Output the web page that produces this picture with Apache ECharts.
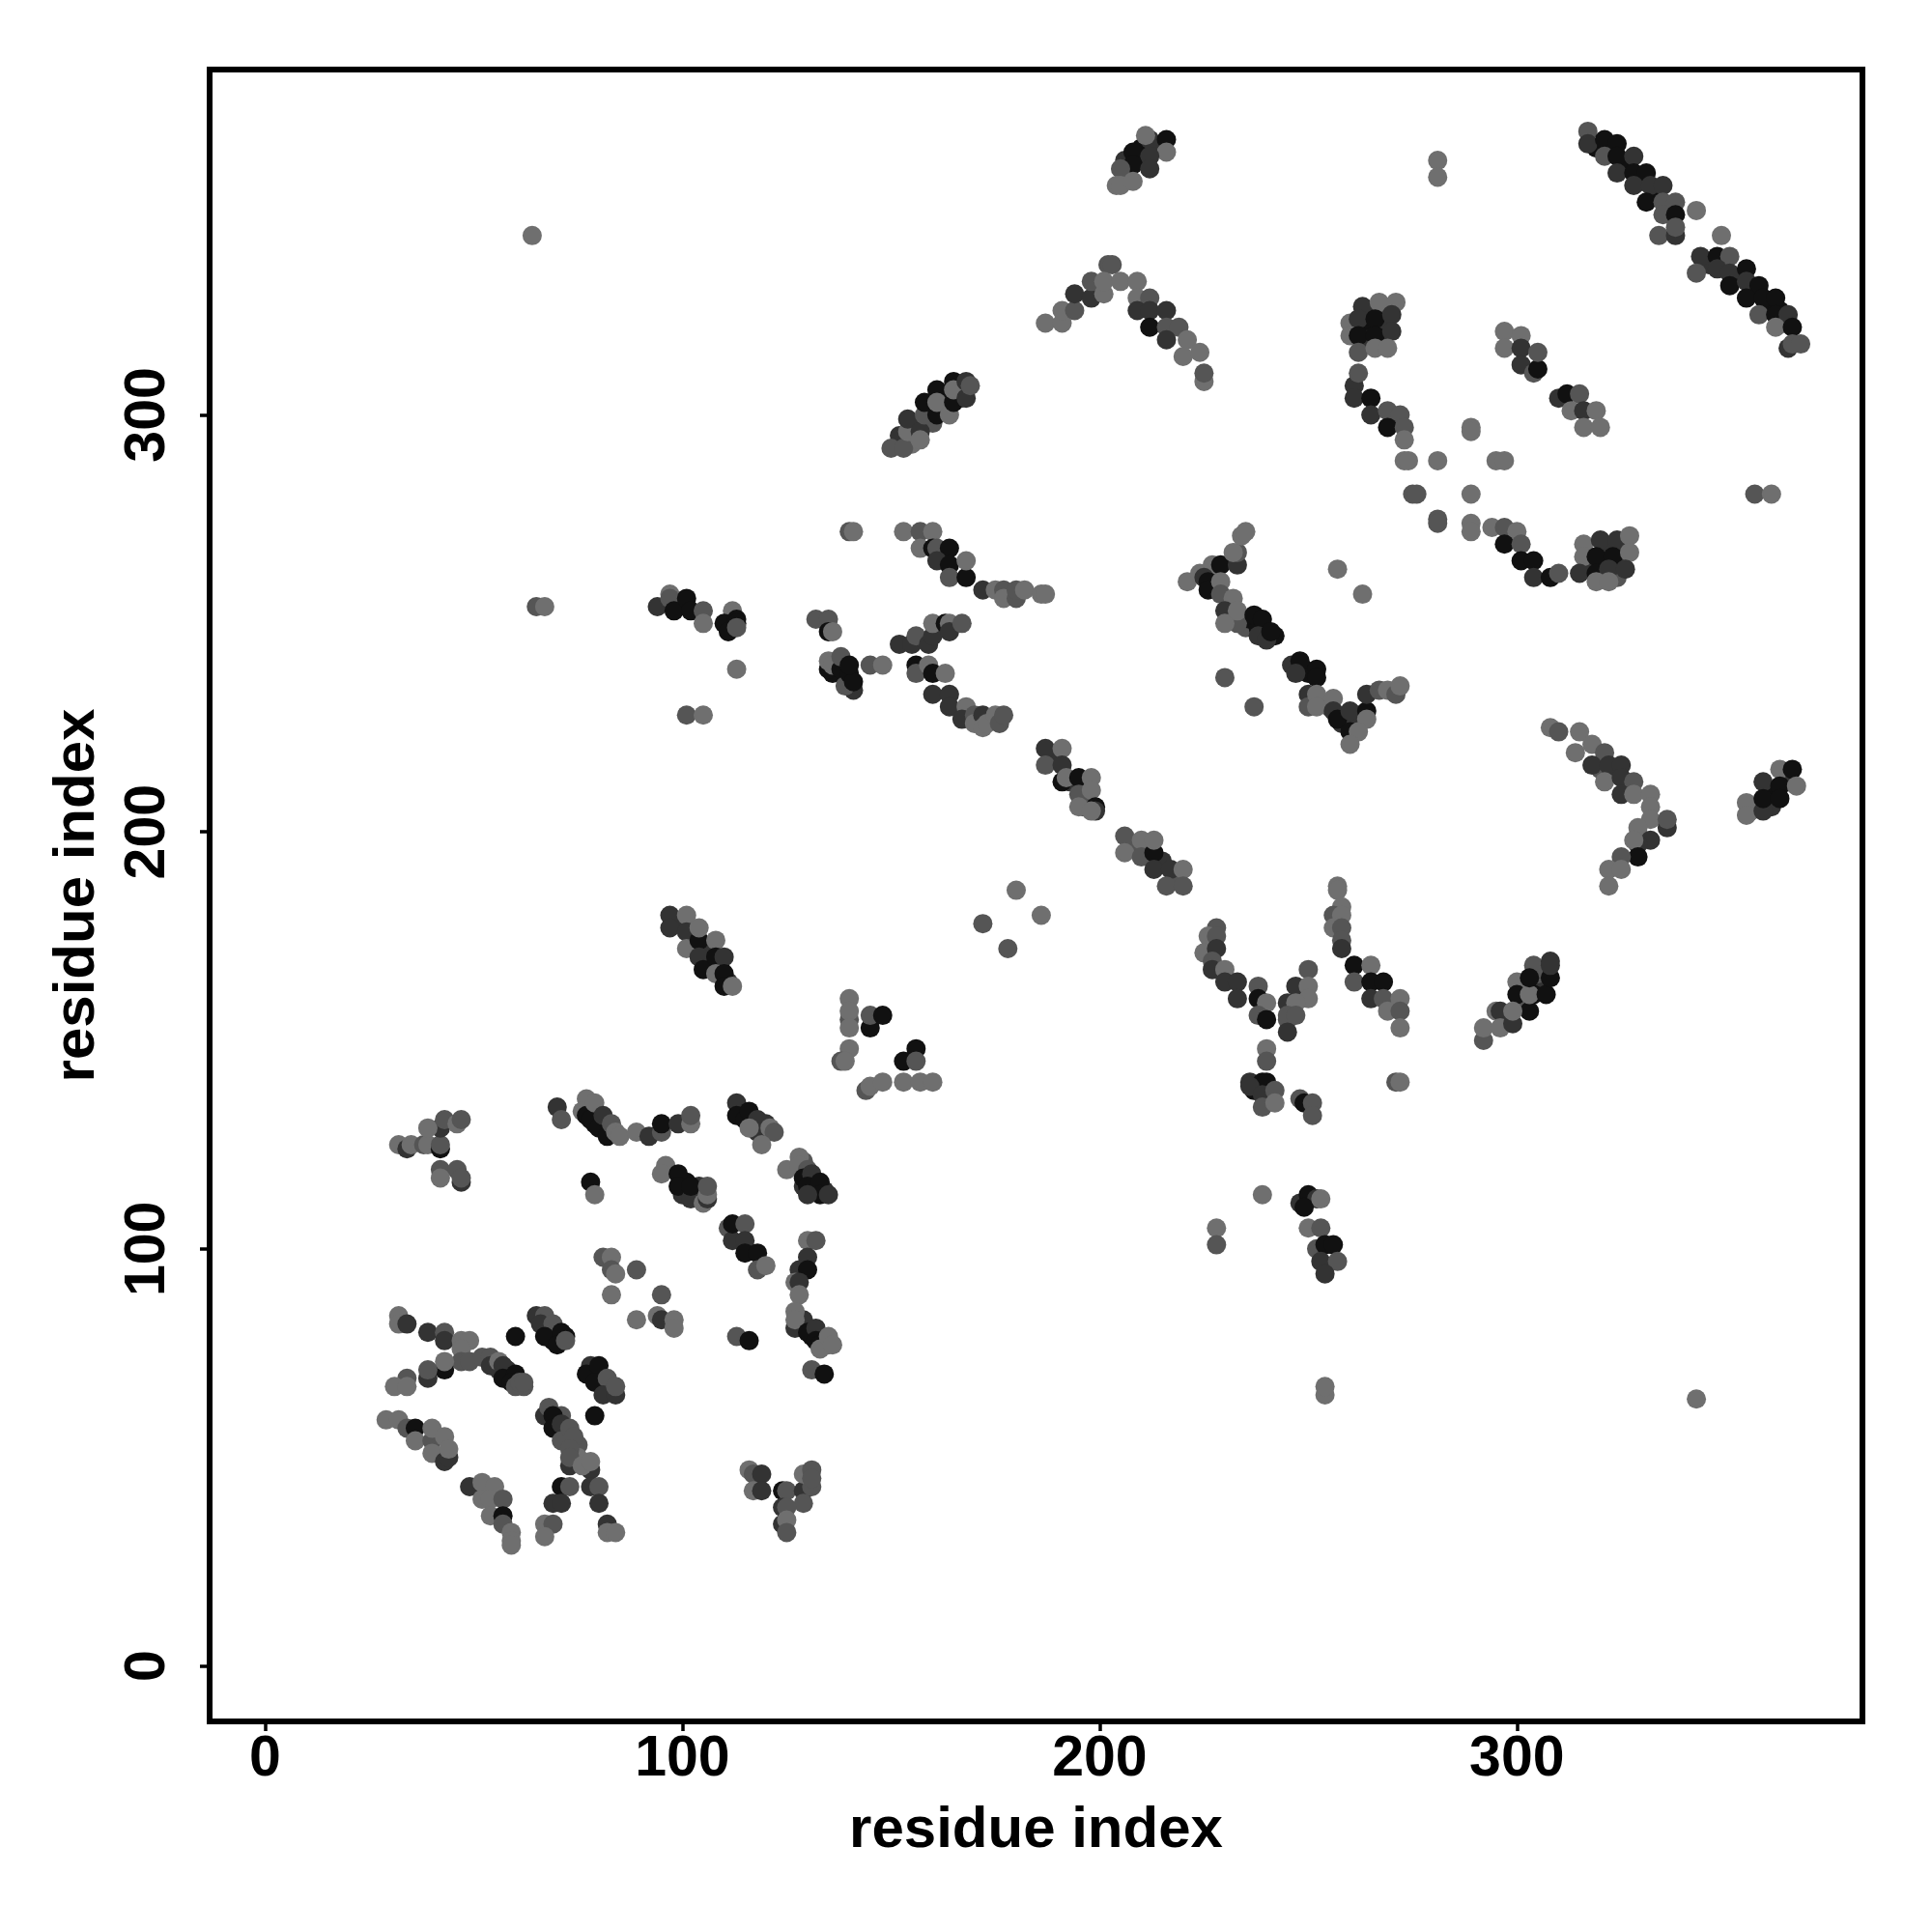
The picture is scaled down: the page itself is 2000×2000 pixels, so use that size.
<!DOCTYPE html>
<html><head><meta charset="utf-8">
<style>html,body{margin:0;padding:0;background:#fff}#c{width:2000px;height:2000px}</style>
<script src="https://cdn.jsdelivr.net/npm/echarts@6/dist/echarts.min.js"></script>
</head><body><div id="c"></div>
<script>
// Contacts: [residue x, residue y, strength 1..4]
const denseUpper=[[319,364,4],[322,363,4],[326,360,4],[330,356,4],[333,353,4],[336,349,3],[346,336,3],[349,336,3],[353,333,4],[357,330,4],[360,326,4],[363,325,4],[364,322,4],[210,361,4],[210,364,4],[214,364,3],[206,357,3],[206,361,3],[152,295,3],[155,293,1],[156,298,3],[159,301,4],[160,298,2],[163,302,3],[163,305,4],[166,306,3],[167,304,2],[264,321,4],[268,322,3],[264,325,3],[268,325,2],[264,318,3],[268,318,3],[321,268,3],[325,268,3],[317,263,3],[321,264,4],[325,265,3],[320,261,3],[324,261,2]];
const denseLower=[[114,133,4],[117,131,4],[120,130,3],[115,132,1],[129,121,2],[131,116,4],[132,115,4],[129,115,3],[134,114,3],[79,130,4],[81,129,3],[83,128,3],[101,116,4],[104,113,4],[104,115,3],[100,113,3],[68,82,3],[70,80,4],[69,78,4],[72,79,4],[66,83,2],[79,71,4],[81,68,3],[82,67,4],[83,66,3],[80,69,4],[58,71,3],[56,71,3],[59,70,4],[62,67,2],[129,81,3],[131,79,4],[134,78,3],[135,77,1],[128,82,2],[70,59,4],[72,56,3],[75,53,2],[75,50,1],[71,60,2]];
const denseMiddle=[[99,178,3],[103,175,3],[102,177,2],[106,172,3],[107,168,4],[109,168,4],[106,169,4],[111,164,3],[189,218,3],[193,212,3],[197,208,2],[196,206,2],[208,197,2],[215,193,3],[218,189,2],[228,259,4],[231,255,3],[235,249,2],[231,251,3],[236,251,4],[238,249,4],[240,248,4],[242,247,4],[227,262,3],[249,239,4],[250,238,4],[253,231,2],[255,230,2],[258,226,3],[259,227,3],[261,226,3],[262,228,3],[302,159,3],[305,163,4],[306,165,3],[301,160,2],[298,155,3],[304,161,4],[307,167,3],[305,166,2],[237,138,4],[238,138,4],[240,137,3],[241,136,3],[137,240,2],[139,237,3],[140,236,4],[136,238,4],[323,214,3],[320,215,2],[327,210,2],[361,210,4],[357,206,2],[361,206,3],[365,212,3],[356,205,1]];
const lowA=[[32,125,1],[34,124,3],[35,125,1],[38,125,2],[39,125,1],[42,124,4],[42,125,2],[42,129,3],[39,129,1],[43,131,2],[46,130,1],[47,131,2],[42,119,2],[46,119,2],[42,117,1],[47,116,3],[47,117,2]];
const lowB=[[70,134,3],[71,131,2],[77,136,1],[76,133,1],[77,132,4],[78,131,4],[80,129,4],[82,127,4],[79,135,1],[81,132,3],[83,130,2],[84,128,1],[85,127,1],[89,128,1],[92,127,3],[95,128,2],[95,130,4],[99,130,3],[102,130,1],[102,132,2]];
const lowC=[[113,135,3],[113,132,4],[115,131,4],[116,133,4],[118,131,3],[118,128,3],[116,129,1],[121,129,1],[122,128,2],[119,125,1]];
const lowD=[[128,122,1],[125,119,1],[128,120,1],[130,119,2],[129,117,4],[131,118,3],[130,115,4],[133,116,4],[133,113,4],[130,113,3],[135,113,3]];
const lowE=[[96,120,1],[95,118,1],[99,118,4],[99,115,4],[102,112,3],[102,115,4],[105,111,1],[106,112,3],[106,113,1],[106,115,2],[78,116,4],[79,113,1]];
const lowF=[[111,105,2],[112,102,3],[112,106,4],[115,106,2],[115,102,3],[115,99,4],[118,99,4],[118,95,2],[120,96,1]];
const lowG=[[130,102,1],[132,102,2],[130,98,3],[128,95,3],[130,95,4],[127,92,1],[128,92,3],[128,89,1]];
const lowH=[[81,98,2],[83,98,1],[83,95,2],[84,94,1],[89,95,2],[83,89,1],[95,89,2],[89,83,1],[94,84,1],[95,83,3],[98,83,1],[98,81,1]];
const lowI=[[127,81,3],[129,83,3],[127,85,1],[127,83,1],[130,80,4],[132,81,3],[132,78,4],[133,77,4],[133,76,1],[135,79,1],[136,77,1],[131,71,2],[134,70,4],[113,79,2],[116,78,4]];
const lowJ=[[32,84,1],[32,82,1],[34,82,3],[39,80,3],[43,80,2],[43,78,3],[47,78,1],[49,78,1],[47,76,1],[47,73,2],[49,73,2],[43,71,4],[43,73,1],[39,69,3],[39,71,2],[34,69,2],[31,67,1],[34,67,1],[52,74,2],[54,74,2],[54,72,3],[56,73,1],[57,72,3],[57,69,4],[60,70,4],[59,68,4],[60,67,2],[61,68,2],[62,68,2],[60,79,4]];
const lowK=[[65,84,3],[67,84,2],[66,82,3],[69,82,2],[67,79,4],[71,80,4],[70,77,4],[72,78,2]];
const lowL=[[78,72,3],[77,70,4],[80,72,4],[79,68,4],[82,69,2],[81,65,3],[84,65,3],[84,67,2],[79,60,4]];
const lowM=[[29,59,1],[32,59,1],[34,57,2],[36,57,4],[36,54,1],[40,54,2],[40,57,1],[43,55,1],[40,51,1],[43,49,3],[44,50,3],[44,52,1]];
const lowN=[[49,43,3],[52,44,1],[52,40,1],[55,43,1],[54,40,1],[57,40,2],[54,36,1],[57,36,4],[57,34,2],[59,32,1],[59,30,1],[59,29,1]];
const lowO=[[67,60,3],[68,62,2],[69,60,4],[69,57,4],[71,58,3],[71,54,2],[73,57,2],[74,55,2],[73,52,2],[73,48,3],[73,50,2],[78,47,3],[76,48,1],[78,49,1],[71,43,4],[73,43,2],[69,39,3],[71,39,3],[78,43,3],[80,43,2],[80,39,3],[82,34,3],[82,32,1],[84,32,1],[67,34,1],[69,34,2],[67,31,1]];
const lowP=[[116,47,1],[117,46,2],[119,46,3],[117,42,1],[119,42,3],[124,42,4],[125,42,2],[129,42,3],[131,43,2],[129,46,1],[131,47,2],[131,45,2],[129,39,2],[124,38,3],[125,38,2],[124,34,3],[125,35,1],[125,32,2]];
const midA=[[94,254,3],[97,257,1],[97,256,2],[98,253,4],[101,256,4],[102,253,4],[105,253,2],[105,250,1],[112,253,1],[110,250,4],[111,248,4],[113,251,4],[113,250,4],[113,249,2],[113,239,1],[101,228,2],[105,228,1]];
const midB=[[132,251,2],[135,251,2],[135,248,4],[136,248,1],[135,239,4],[135,241,1],[136,240,1],[138,239,4],[138,242,2],[141,234,3],[139,235,2],[140,238,4],[141,236,4],[140,240,4],[145,240,2],[148,240,1],[140,272,2],[141,272,1]];
const midC=[[153,272,1],[157,272,2],[160,272,1],[157,268,1],[160,268,4],[161,268,2],[164,268,4],[161,265,3],[164,264,4],[164,261,2],[168,261,4],[168,265,1],[172,258,3],[175,258,1],[177,258,2],[177,256,1],[180,256,2],[180,258,2],[182,258,1],[186,257,1],[187,257,1]];
const midD=[[152,245,3],[155,245,3],[156,247,2],[159,245,3],[160,247,3],[160,250,1],[163,250,4],[164,250,1],[164,248,3],[167,250,2],[156,240,4],[156,238,2],[159,240,1],[160,238,4],[163,238,1]];
const midE=[[160,233,3],[164,233,3],[164,230,3],[168,230,1],[167,227,3],[170,228,2],[170,226,1],[172,228,3],[172,225,1],[173,226,1],[175,228,1],[176,226,2],[177,228,2]];
const midF=[[97,180,3],[97,177,3],[101,180,1],[101,176,3],[101,172,1],[104,174,4],[104,177,1],[104,170,3],[108,174,1],[105,167,4],[108,170,4],[110,170,3],[108,166,1],[110,166,4],[110,163,4],[112,163,1]];
const midG=[[180,186,1],[186,180,1],[172,178,2],[178,172,2],[140,160,1],[140,155,2],[140,157,1],[140,153,1],[145,153,4],[145,156,2],[148,156,4],[140,148,1],[138,145,2],[139,145,1],[156,148,4],[153,145,4],[156,145,2],[144,138,2],[145,139,1],[148,140,1],[153,140,1],[157,140,1],[160,140,1],[65,254,2],[67,254,1],[64,343,1]];
const diagA=[[187,220,3],[191,220,1],[187,216,2],[191,216,3],[191,212,4],[192,213,1],[195,213,4],[198,213,1],[195,209,2],[198,210,1],[195,206,1],[199,206,4],[199,205,3],[198,205,1]];
const diagB=[[206,199,2],[206,195,1],[210,198,1],[210,194,2],[213,195,4],[213,198,1],[213,191,3],[217,191,3],[220,191,1],[216,187,2],[220,187,2]];
const topA=[[212,366,3],[211,367,1],[216,366,4],[216,363,1],[208,363,4],[212,362,3],[208,360,4],[212,359,3],[205,359,2],[204,355,1],[205,355,1],[208,356,1],[281,361,1],[281,357,1]];
const topB=[[317,368,2],[317,365,3],[321,366,4],[324,365,4],[321,362,2],[324,362,4],[328,362,3],[324,358,3],[328,358,4],[331,358,4],[328,355,3],[332,355,3],[335,355,3],[331,351,4],[335,351,2],[338,351,2],[335,348,2],[338,348,4],[334,343,2],[338,343,3],[338,345,2],[343,349,1],[349,343,1]];
const topC=[[344,338,3],[348,338,4],[351,338,2],[343,334,2],[348,335,3],[351,334,3],[355,335,4],[351,331,4],[355,332,3],[358,331,4],[355,328,4],[359,328,4],[362,328,4],[358,324,2],[362,324,4],[365,324,3],[362,321,1],[366,321,4],[365,316,3],[366,317,2],[368,317,2]];
const arch=[[187,322,1],[191,322,1],[191,325,1],[194,325,2],[194,329,3],[198,328,3],[198,332,2],[201,329,1],[202,336,2],[203,336,2],[201,332,1],[205,332,1],[209,332,1],[209,328,1],[212,328,2],[209,325,3],[212,325,3],[216,325,3],[212,321,4],[216,321,2],[219,321,2],[216,318,3],[221,318,1],[220,314,1],[224,315,1],[225,308,1],[225,310,2]];
const riseA=[[150,292,2],[153,292,2],[154,296,1],[154,299,3],[157,296,3],[157,294,1],[158,300,2],[158,303,4],[161,300,4],[161,306,4],[161,303,1],[164,300,1],[165,303,4],[165,308,4],[165,306,1],[168,304,3],[168,308,3],[169,307,2]];
const blockA=[[260,322,1],[263,326,3],[267,327,1],[271,327,1],[262,323,3],[266,323,4],[270,324,3],[260,319,1],[262,319,4],[266,319,4],[270,320,3],[262,315,2],[266,316,1],[269,316,1],[261,307,3],[262,310,2],[261,304,3],[265,304,4],[265,300,3],[269,301,2],[272,300,2],[269,297,4],[273,297,2],[273,294,1]];
const stray=[[273,289,1],[274,289,1],[281,289,1],[295,289,1],[297,289,1],[289,297,1],[289,296,1],[275,281,2],[276,281,2],[289,281,1],[281,275,2],[281,274,2],[289,274,1],[289,272,1],[357,281,2],[361,281,1]];
const pairA=[[297,320,1],[301,319,1],[297,316,1],[301,316,3],[301,312,3],[304,310,2],[305,311,4],[305,315,2],[310,304,3],[312,305,4],[315,305,2],[313,301,1],[316,301,3],[319,301,1],[316,297,1],[320,297,1]];
const arcA=[[294,273,1],[297,273,2],[300,272,1],[297,269,4],[301,269,2],[301,265,4],[304,265,4],[304,261,3],[308,261,4],[310,262,2]];
const arcB=[[316,269,1],[320,270,3],[324,270,3],[327,271,1],[316,266,1],[319,266,4],[323,266,4],[327,267,1],[315,262,3],[319,262,4],[322,263,3],[326,263,3],[319,260,1],[322,260,1]];
const veeA=[[221,260,1],[224,262,1],[227,264,1],[225,261,3],[226,260,4],[226,258,4],[229,264,4],[229,260,1],[233,264,3],[233,267,2],[232,267,1],[234,271,1],[235,272,1],[229,257,2],[232,256,1],[230,253,3],[233,250,2],[230,250,1],[233,253,1],[237,252,4],[239,251,4],[238,247,3],[240,246,3],[241,248,4],[257,263,1],[263,257,1],[230,237,2],[237,230,2]];
const veeB=[[246,240,3],[248,241,4],[247,238,3],[252,239,4],[252,237,4],[250,233,3],[250,230,2],[252,233,1],[252,230,1],[256,232,1],[256,229,3],[257,227,4],[260,229,3],[260,224,4],[264,229,4],[264,227,1],[262,224,1],[260,221,1],[264,233,3],[267,234,2],[269,234,1],[271,233,2],[272,235,1]];
const chev=[[308,225,1],[310,224,2],[315,224,1],[314,219,1],[318,221,1],[321,219,2],[318,216,3],[322,216,3],[325,216,3],[321,212,1],[325,213,3],[328,212,2],[325,209,3],[328,209,1],[332,209,1],[332,206,1],[332,203,1],[336,201,3],[336,203,2],[329,201,1],[332,198,3],[329,197,3],[328,198,1],[329,194,4],[325,194,2],[322,191,1],[325,191,1],[322,187,1]];
const nook=[[355,207,1],[355,204,1],[359,205,3],[359,212,3],[359,208,4],[363,215,1],[366,215,4],[363,211,4],[363,208,4],[367,211,1]];
const lowerA=[[228,177,2],[226,175,1],[228,175,2],[225,171,1],[228,172,3],[227,169,2],[227,167,3],[230,167,1],[230,164,3],[233,164,3],[233,160,3],[238,163,2],[238,160,4],[240,159,1],[238,156,2],[240,155,4],[250,167,2],[247,163,3],[250,163,1],[250,160,1],[245,159,3],[247,159,1],[245,155,2],[245,156,2],[247,156,2],[245,152,3]];
const lowerB=[[257,187,1],[257,186,1],[258,182,1],[256,180,2],[258,180,1],[256,177,1],[258,177,2],[258,174,2],[258,172,3],[261,168,4],[265,168,1],[261,164,2],[265,164,4],[268,164,4],[265,160,3],[268,160,2],[272,160,1],[269,157,1],[272,157,2],[272,153,1]];
const lowerC=[[292,150,2],[292,153,1],[295,157,1],[296,157,3],[296,153,1],[299,154,3],[300,164,1],[300,161,4],[303,157,4],[299,157,1],[303,161,1],[304,168,2],[303,165,4],[307,161,4],[308,165,4],[308,169,3],[308,168,3]];
const lowerD=[[236,140,3],[239,140,4],[240,140,4],[236,139,3],[239,137,3],[242,138,2],[239,134,2],[242,135,1],[240,148,1],[240,145,2],[248,136,2],[249,135,4],[251,135,2],[251,132,2],[271,140,2],[272,140,1]];
const lowerE=[[239,113,1],[228,105,1],[228,101,2],[248,111,3],[250,113,4],[252,112,3],[249,110,4],[253,112,1],[250,105,1],[253,105,2],[252,100,2],[254,101,4],[256,101,4],[253,97,3],[257,97,2],[254,94,3],[254,65,1],[254,67,1],[343,64,1]];

const xTicks=[0,100,200,300];
const yTicks=[0,100,200,300];
const axisRange=[-13.3,382.8];
const groups=[denseUpper,denseLower,denseMiddle,lowA,lowB,lowC,lowD,lowE,lowF,lowG,lowH,lowI,lowJ,lowK,lowL,lowM,lowN,lowO,lowP,midA,midB,midC,midD,midE,midF,midG,diagA,diagB,topA,topB,topC,arch,riseA,blockA,stray,pairA,arcA,arcB,veeA,veeB,chev,nook,lowerA,lowerB,lowerC,lowerD,lowerE];
const palette={1:'#6f6f6f',2:'#555555',3:'#333333',4:'#111111'};
const font='"Liberation Sans",Arial,sans-serif';
const data=[].concat(...groups);
const axis=(ticks,name,gap,lblMargin,rot)=>({type:'value',min:axisRange[0],max:axisRange[1],name,nameLocation:'middle',nameGap:gap,
  nameTextStyle:{fontFamily:font,fontWeight:'bold',fontSize:60,color:'#000'},
  splitLine:{show:false},axisLine:{show:false,onZero:false},
  axisTick:{show:true,length:10,lineStyle:{color:'#000',width:3.5},customValues:ticks},
  axisLabel:{show:true,rotate:rot,margin:lblMargin,fontFamily:font,fontWeight:'bold',fontSize:59,color:'#000',customValues:ticks,hideOverlap:false,showMinLabel:true,showMaxLabel:true}});
const chart=echarts.init(document.getElementById('c'),null,{renderer:'canvas'});
chart.setOption({animation:false,backgroundColor:'#fff',
  grid:{left:217,top:72,width:1711,height:1710,show:true,borderColor:'#000',borderWidth:6,backgroundColor:'#fff'},
  xAxis:axis(xTicks,'residue index',83,10,0),
  yAxis:axis(yTicks,'residue index',107,34,90),
  series:[{type:'scatter',data,symbol:'circle',symbolSize:20,silent:true,clip:false,
    itemStyle:{opacity:1,color:p=>palette[p.data[2]]}}]});
</script></body></html>
